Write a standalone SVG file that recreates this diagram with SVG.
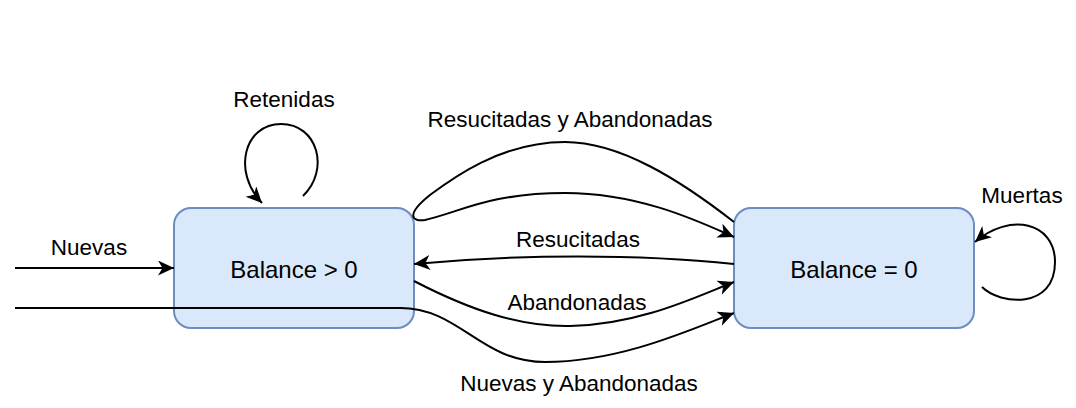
<svg xmlns="http://www.w3.org/2000/svg" width="1076" height="408" viewBox="0 0 1076 408">
<style>
.node{fill:#dae8fc;stroke:#6c8ebf;stroke-width:2}
.edge{fill:none;stroke:#000;stroke-width:2}
.arr{marker-end:url(#ah)}
text{font-family:"Liberation Sans",Arial,Helvetica,sans-serif;fill:#000;text-anchor:middle}
.nl{font-size:24px}
.el{font-size:22.5px}
</style>
<defs>
<marker id="ah" markerUnits="userSpaceOnUse" markerWidth="20" markerHeight="18" refX="16" refY="7.5" orient="auto">
<path d="M0,0 L16,7.5 L0,15 L4.5,7.5 Z" fill="#000"/>
</marker>
</defs>
<rect width="1076" height="408" fill="#fff"/>
<g id="node-balance-pos">
<rect class="node" x="174" y="208" width="240" height="120" rx="17"/>
<text class="nl" x="294" y="278">Balance &gt; 0</text>
</g>
<g id="node-balance-zero">
<rect class="node" x="734" y="208" width="240" height="120" rx="17"/>
<text class="nl" x="854" y="278">Balance = 0</text>
</g>
<g id="connectors">
<path class="edge arr" d="M15,268 L174,268"/>
<path class="edge arr" d="M15,308 L400,308 C460,308 480,362 545,362 C620,362 690,330 734,313"/>
<path class="edge arr" d="M303,196 C330,170 318,124 281,124 C244,124 232,172 262,203"/>
<path class="edge arr" d="M982,287 C1000,305 1055,310 1055,262 C1055,222 1010,212 975,242"/>
<path class="edge arr" d="M414,281 C470,310 520,327 570,326 C640,325 700,295 734,282"/>
<path class="edge arr" d="M734,264 C640,254 520,254 414,264"/>
<path class="edge arr" d="M734,222 C680,180 620,142 565,142 C500,142 450,180 430,195 C405,215 412,222 425,220 C460,212 490,193 565,193 C640,193 700,222 734,237"/>
<text class="el" x="89" y="255">Nuevas</text>
<text class="el" x="284" y="107">Retenidas</text>
<text class="el" x="570" y="127">Resucitadas y Abandonadas</text>
<text class="el" x="578" y="247">Resucitadas</text>
<text class="el" x="577" y="310">Abandonadas</text>
<text class="el" x="579" y="391">Nuevas y Abandonadas</text>
<text class="el" x="1022" y="203">Muertas</text>
</g>
</svg>
